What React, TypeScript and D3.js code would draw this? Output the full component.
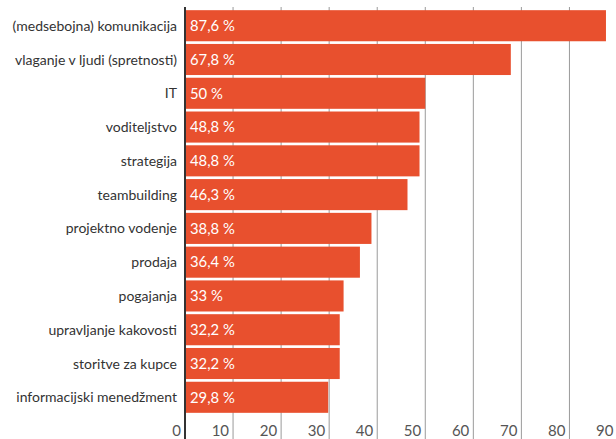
import React from "react";
import * as d3 from "d3";

const categories = [
  "(medsebojna) komunikacija",
  "vlaganje v ljudi (spretnosti)",
  "IT",
  "voditeljstvo",
  "strategija",
  "teambuilding",
  "projektno vodenje",
  "prodaja",
  "pogajanja",
  "upravljanje kakovosti",
  "storitve za kupce",
  "informacijski menedžment",
];
const values = [87.6, 67.8, 50, 48.8, 48.8, 46.3, 38.8, 36.4, 33, 32.2, 32.2, 29.8];
const valueLabels = ["87,6 %", "67,8 %", "50 %", "48,8 %", "48,8 %", "46,3 %", "38,8 %", "36,4 %", "33 %", "32,2 %", "32,2 %", "29,8 %"];
const ticks = [0, 10, 20, 30, 40, 50, 60, 70, 80, 90];

const W = 616;
const H = 439;
const FONT = "Lato, 'Open Sans', sans-serif";

export default function App() {
  const x = d3.scaleLinear().domain([0, 90]).range([185, 617.5]);
  const y = d3.scaleBand<string>().domain(categories).range([9.5, 413.5]).paddingInner(0.08).paddingOuter(0.02);
  return (
    <svg width={W} height={H} style={{ position: "absolute", left: 0, top: 0, background: "#fff" }}>
      {ticks.slice(1).map((t) => (
        <line key={t} x1={x(t)} x2={x(t)} y1={7} y2={H} stroke="#9a9a9a" strokeWidth={1} />
      ))}
      {categories.map((c, i) => (
        <g key={c}>
          <rect x={x(0)} y={y(c)!} width={x(values[i]) - x(0)} height={y.bandwidth()} fill="#E8502E" />
          <text x={x(0) + 5} y={y(c)! + y.bandwidth() / 2} dy="0.36em" fill="#fff" fontSize={14.8} fontFamily={FONT}>
            {valueLabels[i]}
          </text>
          <text x={177} y={y(c)! + y.bandwidth() / 2} dy="0.36em" fill="#333" fontSize={14} textAnchor="end" fontFamily={FONT}>
            {c}
          </text>
        </g>
      ))}
      <line x1={x(0)} x2={x(0)} y1={7} y2={H} stroke="#333" strokeWidth={2} />
      {ticks.map((t) => (
        <text key={t} x={x(t) - 4} y={436} fill="#555" fontSize={15} textAnchor="end" fontFamily={FONT}>
          {t}
        </text>
      ))}
    </svg>
  );
}
